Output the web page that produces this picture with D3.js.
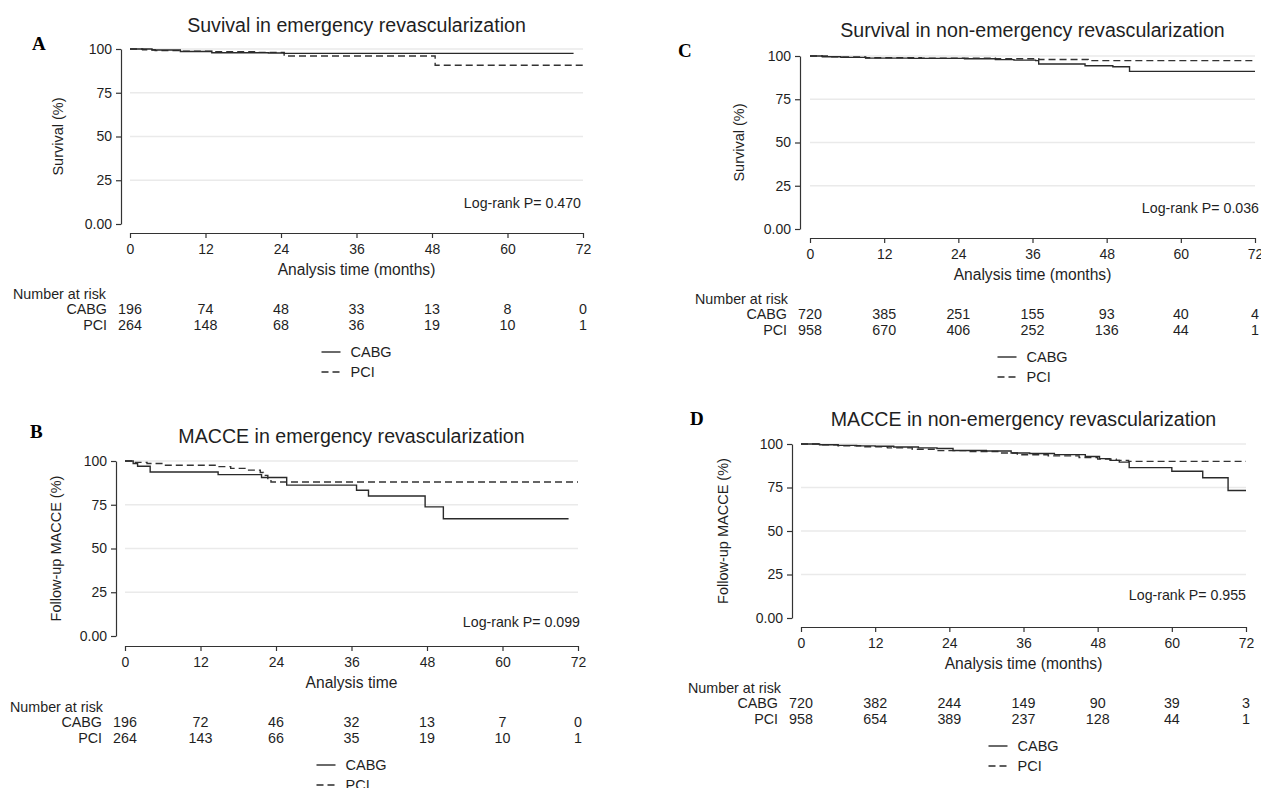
<!DOCTYPE html>
<html>
<head>
<meta charset="utf-8">
<script src="https://cdn.jsdelivr.net/npm/d3@7"></script>
<style>
body { margin: 0; background: #fff; }
svg { display: block; font-family: "Liberation Sans", Arial, sans-serif; }
</style>
</head>
<body>
<svg id="chart" width="1261" height="788"></svg>
<script>
// shared axis values
var timeTicks = [0, 12, 24, 36, 48, 60, 72];
var survTicks = [0, 25, 50, 75, 100];
var survTickLabels = ["0.00", "25", "50", "75", "100"];
var groups = ["CABG", "PCI"];

// Kaplan-Meier steps: [month, percent]
var aCabg = [[0,100],[3.5,99.4],[8,98.6],[13,97.9],[22,97.7],[24.5,97.5],[70.5,97.5]];
var aPci  = [[0,100],[2,99.6],[4,99.1],[8,98.8],[13,98.4],[20,98.1],[24.5,96.0],[48.5,90.7],[72,90.7]];

var bCabg = [[0,100],[1.3,98.5],[2,97.0],[4,93.7],[14.8,92.2],[21.7,90.6],[25.7,86.2],[36.8,83.3],[38.7,80.0],[47.7,73.8],[50.6,67.0],[70.5,67.0]];
var bPci  = [[0,100],[1.5,99.2],[3.5,98.6],[6,97.6],[14.5,96.8],[16.8,95.8],[19.5,94.8],[21.5,93.4],[22,91.8],[22.7,89.5],[23.2,88.0],[72,88.0]];

var cCabg = [[0,100],[2,99.6],[5,99.2],[9,98.8],[16,98.6],[25,98.4],[30,97.9],[33,97.6],[36.5,97.3],[37,95.4],[44.5,94.4],[49,93.8],[51.7,91.1],[72,91.1]];
var cPci  = [[0,100],[3,99.5],[9,99.0],[18,98.7],[30,98.4],[37,98.0],[45,97.3],[72,97.3]];

var dCabg = [[0,100],[3,99.6],[6,99.2],[9,98.9],[12,98.7],[15,98.3],[19,97.8],[22,97.4],[24.6,96.3],[30,96.0],[34,94.8],[37,94.5],[41,93.9],[46,92.8],[48.3,91.6],[50,90.6],[51.5,89.6],[53.1,86.4],[60,84.3],[65,80.6],[69.1,73.3],[72,73.3]];
var dPci  = [[0,100],[3,99.5],[6,99.0],[10,98.4],[14,97.8],[18,97.0],[22,96.2],[27,95.7],[32,94.8],[35,93.8],[40,93.2],[45,92.2],[48,91.3],[51,90.6],[53,90.0],[72,90.0]];

// number at risk
var aRiskCabg = [196, 74, 48, 33, 13, 8, 0];
var aRiskPci  = [264, 148, 68, 36, 19, 10, 1];
var bRiskCabg = [196, 72, 46, 32, 13, 7, 0];
var bRiskPci  = [264, 143, 66, 35, 19, 10, 1];
var cRiskCabg = [720, 385, 251, 155, 93, 40, 4];
var cRiskPci  = [958, 670, 406, 252, 136, 44, 1];
var dRiskCabg = [720, 382, 244, 149, 90, 39, 3];
var dRiskPci  = [958, 654, 389, 237, 128, 44, 1];

var pValues = ["0.470", "0.099", "0.036", "0.955"];

var panels = [
	{letter: "A", title: "Suvival in emergency revascularization", ylab: "Survival (%)", xlab: "Analysis time (months)",
		cabg: aCabg, pci: aPci, riskCabg: aRiskCabg, riskPci: aRiskPci, p: pValues[0],
		x0: 130, x1: 583, axisX: 121, yTop: 49, yBot: 224, axisY: 233, titleY: 32, letterX: 32, letterY: 50,
		ylabX: 58, logY: 203, logX: 581, narX: 13},
	{letter: "B", title: "MACCE in emergency revascularization", ylab: "Follow-up MACCE (%)", xlab: "Analysis time",
		cabg: bCabg, pci: bPci, riskCabg: bRiskCabg, riskPci: bRiskPci, p: pValues[1],
		x0: 125, x1: 578, axisX: 116, yTop: 461, yBot: 636, axisY: 646, titleY: 443, letterX: 30, letterY: 438,
		ylabX: 56, logY: 622, logX: 580, narX: 10},
	{letter: "C", title: "Survival in non-emergency revascularization", ylab: "Survival (%)", xlab: "Analysis time (months)",
		cabg: cCabg, pci: cPci, riskCabg: cRiskCabg, riskPci: cRiskPci, p: pValues[2],
		x0: 810, x1: 1255, axisX: 800, yTop: 56, yBot: 229, axisY: 238, titleY: 37, letterX: 678, letterY: 57,
		ylabX: 739, logY: 208, logX: 1259, narX: 695},
	{letter: "D", title: "MACCE in non-emergency revascularization", ylab: "Follow-up MACCE (%)", xlab: "Analysis time (months)",
		cabg: dCabg, pci: dPci, riskCabg: dRiskCabg, riskPci: dRiskPci, p: pValues[3],
		x0: 801, x1: 1246, axisX: 792, yTop: 444, yBot: 618, axisY: 627, titleY: 426, letterX: 690, letterY: 425,
		ylabX: 723, logY: 595, logX: 1246, narX: 688}
];

var ink = "#1f1f1f";
var svg = d3.select("#chart");

function drawPanel(p){
	var g = svg.append("g");

	var x = d3.scaleLinear().domain([0, 72]).range([p.x0, p.x1]);
	var y = d3.scaleLinear().domain([0, 100]).range([p.yBot, p.yTop]);
	var cx = (p.x0 + p.x1) / 2;

	// grid
	g.append("g")
		.selectAll("line")
		.data(survTicks.filter(function(d){ return d > 0; }))
		.enter().append("line")
		.attr("x1", p.x0)
		.attr("x2", p.x1)
		.attr("y1", function(d){ return y(d); })
		.attr("y2", function(d){ return y(d); })
		.attr("stroke", "#eaeaea")
		.attr("stroke-width", 1.3);

	// y axis
	var yAxis = g.append("g")
		.attr("transform", "translate(" + p.axisX + ",0)")
		.call(d3.axisLeft(y)
			.tickValues(survTicks)
			.tickFormat(function(d, i){ return survTickLabels[i]; })
			.tickSize(5)
			.tickSizeOuter(0)
			.tickPadding(4));

	// x axis
	var xAxis = g.append("g")
		.attr("transform", "translate(0," + p.axisY + ")")
		.call(d3.axisBottom(x)
			.tickValues(timeTicks)
			.tickSize(5)
			.tickSizeOuter(0)
			.tickPadding(6));

	[yAxis, xAxis].forEach(function(a){
		a.attr("font-family", null).attr("font-size", null);
		a.select(".domain").attr("stroke", "#333").attr("stroke-width", 1.2);
		a.selectAll(".tick line").attr("stroke", "#333").attr("stroke-width", 1.2);
		a.selectAll(".tick text").attr("fill", ink).style("font-size", "14px");
	});

	// curves
	var line = d3.line()
		.x(function(d){ return x(d[0]); })
		.y(function(d){ return y(d[1]); })
		.curve(d3.curveStepAfter);

	g.append("path")
		.datum(p.pci)
		.attr("fill", "none")
		.attr("stroke", "#333")
		.attr("stroke-width", 1.4)
		.attr("stroke-dasharray", "7,4")
		.attr("d", line);

	g.append("path")
		.datum(p.cabg)
		.attr("fill", "none")
		.attr("stroke", "#2a2a2a")
		.attr("stroke-width", 1.4)
		.attr("d", line);

	// titles
	g.append("text")
		.attr("x", cx)
		.attr("y", p.titleY)
		.attr("text-anchor", "middle")
		.attr("fill", ink)
		.style("font-size", "19.6px")
		.text(p.title);

	g.append("text")
		.attr("x", p.letterX)
		.attr("y", p.letterY)
		.attr("fill", "#000")
		.style("font-family", "'Liberation Serif', 'Times New Roman', serif")
		.style("font-weight", "bold")
		.style("font-size", "19px")
		.text(p.letter);

	g.append("text")
		.attr("transform", "translate(" + p.ylabX + "," + ((p.yTop + p.yBot) / 2) + ") rotate(-90)")
		.attr("text-anchor", "middle")
		.attr("dy", "0.35em")
		.attr("fill", ink)
		.style("font-size", "14.5px")
		.text(p.ylab);

	g.append("text")
		.attr("x", cx)
		.attr("y", p.axisY + 37)
		.attr("text-anchor", "middle")
		.attr("dy", "0.35em")
		.attr("fill", ink)
		.style("font-size", "15.6px")
		.text(p.xlab);

	g.append("text")
		.attr("x", p.logX)
		.attr("y", p.logY)
		.attr("text-anchor", "end")
		.attr("dy", "0.35em")
		.attr("fill", ink)
		.style("font-size", "14.2px")
		.text("Log-rank P= " + p.p);

	// number at risk table
	g.append("text")
		.attr("x", p.narX)
		.attr("y", p.axisY + 61)
		.attr("dy", "0.35em")
		.attr("fill", ink)
		.style("font-size", "14.3px")
		.text("Number at risk");

	var rows = [p.riskCabg, p.riskPci];
	rows.forEach(function(r, k){
		var ry = p.axisY + 76 + k * 16;
		g.append("text")
			.attr("x", p.x0 - 23)
			.attr("y", ry)
			.attr("dy", "0.35em")
			.attr("text-anchor", "end")
			.attr("fill", ink)
			.style("font-size", "14.3px")
			.text(groups[k]);

		g.selectAll(null)
			.data(r)
			.enter().append("text")
			.attr("x", function(d, i){ return x(timeTicks[i]); })
			.attr("y", ry)
			.attr("dy", "0.35em")
			.attr("text-anchor", "middle")
			.attr("fill", ink)
			.style("font-size", "14.3px")
			.text(function(d){ return d; });
	});

	// legend
	groups.forEach(function(name, k){
		var ly = p.axisY + 119 + k * 20;
		g.append("line")
			.attr("x1", cx - 35)
			.attr("x2", cx - 16)
			.attr("y1", ly)
			.attr("y2", ly)
			.attr("stroke", "#2a2a2a")
			.attr("stroke-width", 1.4)
			.attr("stroke-dasharray", k == 1 ? "7,4" : null);
		g.append("text")
			.attr("x", cx - 6)
			.attr("y", ly)
			.attr("dy", "0.35em")
			.attr("fill", ink)
			.style("font-size", "14.5px")
			.text(name);
	});
}

panels.forEach(drawPanel);
</script>
</body>
</html>
